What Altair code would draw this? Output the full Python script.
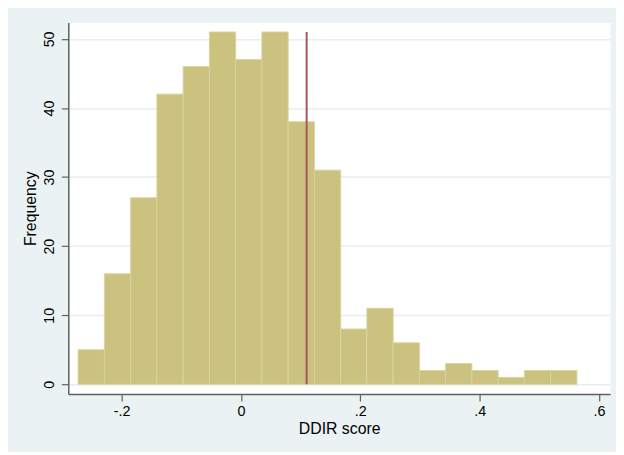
import altair as alt
import pandas as pd

# Histogram bins (DDIR score) and frequencies
bin_left = [-0.273, -0.229, -0.185, -0.141, -0.097, -0.053, -0.009, 0.035, 0.079, 0.123,
            0.167, 0.211, 0.255, 0.299, 0.343, 0.387, 0.431, 0.475, 0.519]
bin_right = [-0.229, -0.185, -0.141, -0.097, -0.053, -0.009, 0.035, 0.079, 0.123, 0.167,
             0.211, 0.255, 0.299, 0.343, 0.387, 0.431, 0.475, 0.519, 0.563]
counts = [5, 16, 27, 42, 46, 51, 47, 51, 38, 31, 8, 11, 6, 2, 3, 2, 1, 2, 2]

# Vertical reference line
ref_x = [0.11]
ref_top = [51]
ref_bottom = [0]

x_ticks = [-0.2, 0, 0.2, 0.4, 0.6]
x_tick_labels = ["-.2", "0", ".2", ".4", ".6"]
y_ticks = [0, 10, 20, 30, 40, 50]

df = pd.DataFrame({"left": bin_left, "right": bin_right, "count": counts,
                   "base": [0] * len(counts)})
ref_df = pd.DataFrame({"x": ref_x, "top": ref_top, "bottom": ref_bottom})

label_expr = "".join(
    f"abs(datum.value - ({v})) < 1e-6 ? '{l}' : " for v, l in zip(x_ticks, x_tick_labels)
) + "''"

FONT = "Liberation Sans"
xscale = alt.Scale(domain=[-0.2895, 0.6186], nice=False, zero=False)
yscale = alt.Scale(domain=[-1.42, 52.39], nice=False, zero=False)

x_axis = alt.Axis(values=x_ticks, labelExpr=label_expr, title="DDIR score",
                  grid=False, domainColor="#5f5f5f", domainWidth=1.5,
                  tickColor="#5f5f5f", tickWidth=1.2, tickSize=7,
                  labelPadding=4, labelFontSize=14.5, labelFont=FONT, labelColor="#000000",
                  titleFontSize=16, titleFont=FONT, titleFontWeight="normal",
                  titleColor="#000000", titlePadding=2)
y_axis = alt.Axis(values=y_ticks, title="Frequency", grid=True,
                  gridColor="#E6EEF1", gridWidth=1.5,
                  domainColor="#5f5f5f", domainWidth=1.5,
                  tickColor="#5f5f5f", tickWidth=1.2, tickSize=7,
                  labelAngle=270, labelAlign="center", labelBaseline="bottom",
                  labelPadding=5, labelFontSize=14.5, labelFont=FONT, labelColor="#000000",
                  titleFontSize=16, titleFont=FONT, titleFontWeight="normal",
                  titleColor="#000000", titlePadding=3)

bars = alt.Chart(df).mark_rect(
    fill="#CAC27E", stroke="#D9D49E", strokeWidth=1
).encode(
    x=alt.X("left:Q", scale=xscale, axis=x_axis),
    x2="right:Q",
    y=alt.Y("count:Q", scale=yscale, axis=y_axis),
    y2="base:Q",
)

ref = alt.Chart(ref_df).mark_rule(color="#A9545A", strokeWidth=2).encode(
    x=alt.X("x:Q", scale=xscale),
    y=alt.Y("bottom:Q", scale=yscale),
    y2="top:Q",
)

chart = alt.layer(bars, ref).properties(
    width=548, height=376,
    background="#EAF2F3",
    padding={"left": 61, "top": 12, "right": 6, "bottom": 56},
    autosize=alt.AutoSizeParams(type="none"),
).configure_view(fill="#FFFFFF", stroke="transparent")

chart.save("out.html", embed_options={"renderer": "svg", "actions": False})
